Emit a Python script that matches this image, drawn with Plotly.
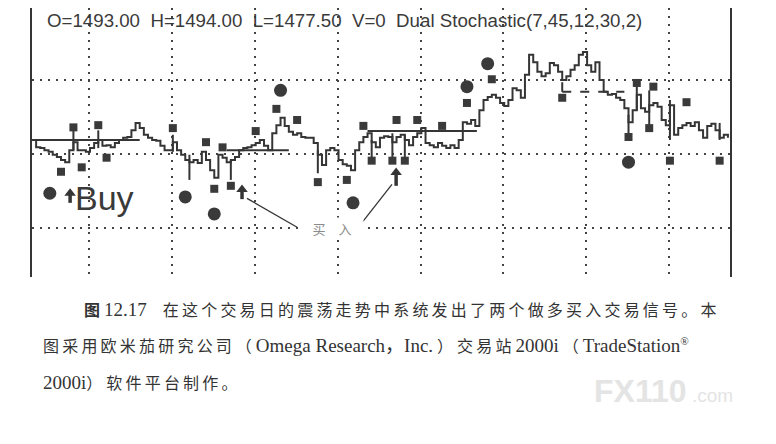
import plotly.graph_objects as go

# 收盘价（每根K线一个值，按图读出）
close = [1491.9, 1490.9, 1490.8, 1490.5, 1490.3, 1489.9, 1489.6, 1489.2, 1488.9, 1490.5,
         1491.6, 1490.5, 1490.5, 1490.3, 1490.8, 1491.5, 1491.9, 1491.1, 1491.2, 1490.9,
         1491.5, 1491.9, 1492.2, 1492.3, 1493.2, 1494.2, 1493.5, 1492.6, 1492.2, 1491.9,
         1491.8, 1491.1, 1490.5, 1490.5, 1491.6, 1490.5, 1489.9, 1489.2, 1488.9, 1489.2,
         1488.8, 1490.3, 1489.2, 1487.8, 1486.8, 1489.9, 1489.5, 1488.9, 1489.2, 1489.6,
         1490.5, 1490.8, 1490.9, 1491.2, 1491.5, 1491.9, 1491.1, 1490.5, 1492.8, 1493.9,
         1494.9, 1493.8, 1493.0, 1492.6, 1492.8, 1492.3, 1492.2, 1492.2, 1491.5, 1489.9,
         1488.5, 1490.5, 1490.8, 1490.5, 1489.2, 1488.6, 1488.4, 1487.8, 1490.5, 1491.6,
         1492.3, 1492.8, 1491.6, 1490.9, 1492.2, 1492.4, 1492.3, 1491.6, 1492.3, 1492.6,
         1491.9, 1491.2, 1492.3, 1492.8, 1493.5, 1491.5, 1491.2, 1490.9, 1491.5, 1491.1,
         1490.8, 1491.2, 1490.8, 1491.9, 1494.3, 1494.1, 1494.6, 1493.8, 1495.9, 1497.3,
         1497.7, 1498.0, 1497.6, 1496.9, 1496.5, 1497.3, 1498.9, 1498.6, 1497.6, 1500.7,
         1503.4, 1502.4, 1501.1, 1500.5, 1500.9, 1502.3, 1502.0, 1501.1, 1500.0, 1500.5,
         1501.4, 1502.0, 1503.4, 1503.8, 1502.0, 1501.1, 1502.4, 1500.0, 1498.4, 1498.0,
         1498.1, 1497.6, 1497.3, 1496.2, 1494.3, 1495.9, 1498.0, 1496.2, 1495.7, 1496.6,
         1496.9, 1496.4, 1494.6, 1493.9, 1496.6, 1492.6, 1493.5, 1493.9, 1494.2, 1493.8,
         1494.3, 1493.2, 1492.2, 1493.8, 1494.1, 1493.2, 1492.2, 1492.6, 1492.2]
bars = list(range(len(close)))

# 几根较长的K线影线
wick_i = [10, 16, 34, 38, 48, 69, 82, 87, 90, 128, 144, 146, 149, 154, 166]
wick_lo = [1490.5, 1490.8, 1490.3, 1486.5, 1486.5, 1487.4, 1489.5, 1489.5, 1489.6,
           1498.4, 1492.8, 1495.9, 1493.9, 1491.9, 1491.9]
wick_hi = [1493.2, 1493.2, 1492.6, 1489.9, 1489.2, 1490.5, 1491.9, 1492.8, 1492.6,
           1499.7, 1495.3, 1499.3, 1498.6, 1497.3, 1494.2]

# 方块标记
sq_i = [10, 16, 7, 12, 18, 34, 42, 46, 44, 48, 54, 59, 64, 69, 76, 80, 82, 87, 90, 88,
        93, 99, 105, 111, 128, 144, 146, 150, 149, 154, 158, 166]
sq_p = [1493.6, 1493.9, 1487.6, 1488.2, 1489.5, 1493.5, 1491.6, 1490.9, 1485.3, 1485.7,
        1493.1, 1496.1, 1494.6, 1486.2, 1486.5, 1493.8, 1489.1, 1489.1, 1489.1, 1494.6,
        1494.6, 1493.8, 1496.9, 1500.1, 1497.6, 1492.3, 1499.6, 1499.1, 1493.5, 1489.1,
        1497.0, 1489.1]

# 圆点标记（最后一个是图例里的圆点）
ci_i = [60, 105, 110, 144, 37, 44, 77.5, 4.3]
ci_p = [1498.6, 1499.1, 1502.2, 1488.9, 1484.2, 1481.9, 1483.4, 1484.7]

# 水平止损线
lvl_x0 = [1.2, 47, 81, 128]
lvl_x1 = [26, 62, 107.4, 143]
lvl_p = [1491.9, 1490.5, 1493.1, 1498.4]
lvl_dash = ["solid", "solid", "solid", "dash"]

# 买入箭头 (位置, 尾, 尖)，最后一个是图例里的箭头
arr_i = [50.7, 87.9, 9.2]
arr_tail = [1483.9, 1485.7, 1483.4]
arr_tip = [1485.8, 1488.1, 1485.3]

grid_x = [13.8 + 20 * k for k in range(8)]
grid_p = [1480, 1490, 1500]

ink = "#353535"


def spread(s):
    # 书上的中文排得比较松，字间加细空格
    out = ""
    for a, b in zip(s, s[1:] + " "):
        out += a
        if ord(a) > 0x2e80 and ord(b) > 0x2e80:
            out += "\u2009"
    return out


def lat(s):
    # 西文部分字号大一点
    return '<span style="font-size:19px">' + s + "</span>"


fig = go.Figure()

fig.add_trace(go.Scatter(x=bars, y=close, mode="lines", line_shape="hv",
                         line=dict(color=ink, width=2), hoverinfo="skip"))

wx, wy = [], []
for i, lo, hi in zip(wick_i, wick_lo, wick_hi):
    wx += [i, i, None]
    wy += [lo, hi, None]
fig.add_trace(go.Scatter(x=wx, y=wy, mode="lines", line=dict(color=ink, width=2)))

for x0, x1, p, d in zip(lvl_x0, lvl_x1, lvl_p, lvl_dash):
    fig.add_trace(go.Scatter(x=[x0, x1], y=[p, p], mode="lines",
                             line=dict(color=ink, width=2, dash=d)))

fig.add_trace(go.Scatter(x=sq_i, y=sq_p, mode="markers",
                         marker=dict(symbol="square", size=8, color="#3a3a3a")))
fig.add_trace(go.Scatter(x=ci_i, y=ci_p, mode="markers",
                         marker=dict(symbol="circle", size=13, color="#3a3a3a")))

# 箭头：杆 + 三角头
sx, sy = [], []
for i, t0, t1 in zip(arr_i, arr_tail, arr_tip):
    sx += [i, i, None]
    sy += [t0, t1 - 0.6, None]
fig.add_trace(go.Scatter(x=sx, y=sy, mode="lines", line=dict(color=ink, width=3.5)))
fig.add_trace(go.Scatter(x=arr_i, y=[t - 0.6 for t in arr_tip], mode="markers",
                         marker=dict(symbol="triangle-up", size=10, color=ink)))

# "买入" 指示线
fig.add_shape(type="line", x0=51.9, y0=1484.0, x1=64, y1=1480.1,
              line=dict(color=ink, width=1.3))
fig.add_shape(type="line", x0=79.9, y0=1480.9, x1=86.9, y1=1485.9,
              line=dict(color=ink, width=1.3))
fig.add_annotation(x=72.4, y=1480, text="买　入", showarrow=False,
                   font=dict(family="Noto Sans CJK SC", size=13, color="#8a8a8a"),
                   bgcolor="white", width=60)

fig.add_annotation(x=10.0, y=1484.0, xanchor="left", yanchor="middle", text="Buy",
                   showarrow=False,
                   font=dict(family="Liberation Sans", size=34, color="#3a3a3a"))

fig.add_annotation(xref="paper", yref="paper", x=0.0186, y=0.955, xanchor="left",
                   yanchor="middle",
                   text="O=1493.00  H=1494.00  L=1477.50  V=0  Dual Stochastic(7,45,12,30,2)",
                   showarrow=False,
                   font=dict(family="Liberation Sans", size=18.7, color="#3a3a3a"))

# 图注
cap_font = dict(family="Liberation Serif, Noto Sans CJK SC", size=16, color="#333")
captions = [
    ("<b>图</b> " + lat("12.17") + "    "
     + spread("在这个交易日的震荡走势中系统发出了两个做多买入交易信号。本"),
     0.0716, -0.119),
    (spread("图采用欧米茄研究公司") + " （ " + lat("Omega Research，Inc.") + " ） "
     + spread("交易站") + " " + lat("2000i") + " （ " + lat("TradeStation") + "<sup>®</sup>",
     0.0129, -0.2565),
    (lat("2000i") + "） " + spread("软件平台制作。"), 0.0129, -0.394),
]
for txt, x, y in captions:
    fig.add_annotation(xref="paper", yref="paper", x=x, y=y, xanchor="left",
                       yanchor="middle", text=txt, showarrow=False, font=cap_font)

fig.add_annotation(xref="paper", yref="paper", x=0.802, y=-0.424, xanchor="left",
                   yanchor="middle", text="<b>FX110</b>", showarrow=False,
                   font=dict(family="Liberation Sans", size=32, color="#e4e4e4"))
fig.add_annotation(xref="paper", yref="paper", x=0.943, y=-0.439, xanchor="left",
                   yanchor="middle", text=".com", showarrow=False,
                   font=dict(family="Liberation Sans", size=19, color="#e4e4e4"))

# 页面本身有约 8px 的边距，这里把图缩小一点来抵消
fig.update_layout(
    width=768, height=436,
    margin=dict(l=24, r=46, t=0, b=167),
    paper_bgcolor="white", plot_bgcolor="white",
    showlegend=False,
)
fig.update_xaxes(range=[0, 168.5], tickvals=grid_x, showticklabels=False, ticks="",
                 showgrid=True, gridcolor="#444", gridwidth=1.5, griddash="2px,6px",
                 zeroline=False, showline=False)
fig.update_yaxes(range=[1473.38, 1509.73], tickvals=grid_p, showticklabels=False, ticks="",
                 showgrid=True, gridcolor="#444", gridwidth=1.5, griddash="2px,6px",
                 zeroline=False, showline=True, linecolor=ink, linewidth=2, mirror=True)

fig.write_html("out.html")
